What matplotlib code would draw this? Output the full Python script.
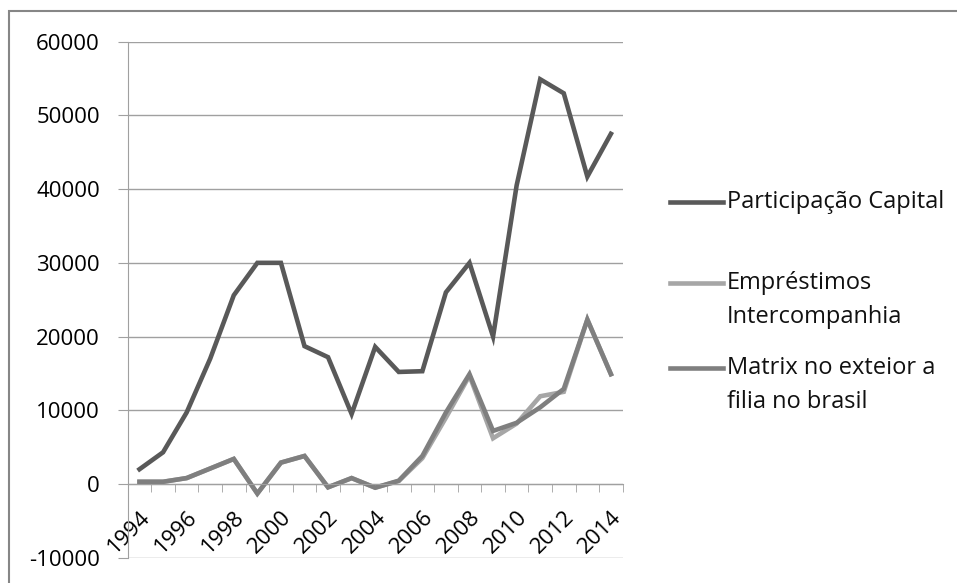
import matplotlib.pyplot as plt
from matplotlib.patches import Rectangle
from matplotlib.lines import Line2D

# dados
anos = list(range(1994, 2015))
participacao = [2000, 4300, 9700, 17000, 25600, 30000, 30000, 18700, 17200, 9500, 18600,
                15200, 15300, 26000, 30000, 20000, 40500, 54900, 53000, 41700, 47500]
emprestimos = [300, 300, 800, 2100, 3400, -1300, 2900, 3800, -450, 800, -500,
               400, 3500, 9000, 14700, 6200, 8200, 11900, 12500, 22300, 14900]
matrix = [300, 300, 800, 2100, 3400, -1300, 2900, 3800, -450, 800, -500,
          450, 3800, 9700, 14900, 7200, 8300, 10400, 12900, 22300, 14900]
nomes = ["Participação Capital", "Empréstimos\nIntercompanhia", "Matrix no exteior a\nfilia no brasil"]
cores = ["#595959", "#a6a6a6", "#7f7f7f"]
y_ticks = [-10000, 0, 10000, 20000, 30000, 40000, 50000, 60000]

plt.rcParams['font.family'] = ['Open Sans', 'DejaVu Sans']

W, H = 957, 583
fig = plt.figure(figsize=(W / 100, H / 100), dpi=100)
ax = fig.add_axes([127.7 / W, 1 - 557.7 / H, 495 / W, 516 / H])

x = list(range(len(anos)))
for serie, cor in zip([participacao, emprestimos, matrix], cores):
    ax.plot(x, serie, color=cor, linewidth=3.3, solid_joinstyle="miter")

ax.set_xlim(-0.5, len(anos) - 0.5)
ax.set_ylim(-10000, 60000)
ax.set_yticks(y_ticks)
ax.set_yticklabels([str(v) for v in y_ticks])
ax.grid(axis="y", color="#a0a0a0", linewidth=1)
ax.set_axisbelow(True)

for s in ["top", "right"]:
    ax.spines[s].set_visible(False)
ax.spines["left"].set_color("#a0a0a0")
ax.spines["bottom"].set_color("#a0a0a0")
ax.spines["bottom"].set_position(("data", 0))

ax.set_xticks(x[::2])
ax.set_xticklabels([str(a) for a in anos[::2]], rotation=45, ha="right", va="top",
                   rotation_mode="anchor")
ax.set_xticks([i - 0.5 for i in range(len(anos) + 1)], minor=True)
ax.tick_params(axis="x", which="major", length=0, pad=16, labelsize=16)
ax.tick_params(axis="x", which="minor", length=6, color="#a0a0a0", direction="out")
ax.tick_params(axis="y", length=7, color="#a0a0a0", labelsize=16, pad=13)

# legenda
leg_y = [201.7, 283, 368]
for nome, cor, yy in zip(nomes, cores, leg_y):
    fig.add_artist(Line2D([670 / W, 723 / W], [1 - yy / H, 1 - yy / H], color=cor, linewidth=3.3))
    for k, linha in enumerate(nome.split("\n")):
        fig.text(727 / W, 1 - (yy + k * 33.7) / H, linha, fontsize=17, va="center", ha="left",
                 color="#111111")

fig.add_artist(Rectangle((9 / W, -0.1), 1.2, 1.1 - 11 / H, transform=fig.transFigure,
                         fill=False, edgecolor="#868686", linewidth=1.5))

fig.savefig("out.png", dpi=100)
